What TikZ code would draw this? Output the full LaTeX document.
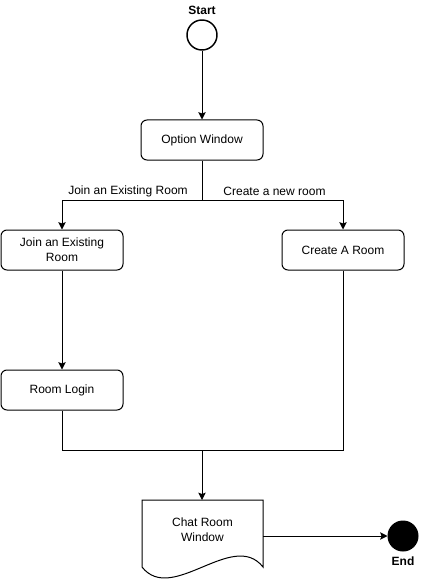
\documentclass[tikz,border=0pt]{standalone}
\usepackage{fontspec}
\setmainfont{Liberation Sans}
\usetikzlibrary{arrows.meta}
\begin{document}
\begin{tikzpicture}[x=0.75pt,y=-0.75pt,
  font=\fontsize{9}{11}\selectfont, line width=0.75pt,
  box/.style={draw, rounded corners=4.5pt, minimum width=91.5pt, minimum height=30pt, align=center, inner sep=1pt},
  state/.style={circle, draw, minimum size=22.5pt, inner sep=0pt, line width=1.1pt},
  endstate/.style={circle, draw, fill=black, minimum size=22.5pt, inner sep=0pt},
  lbl/.style={font=\fontsize{9}{11}\selectfont\bfseries},
  elbl/.style={inner sep=1pt},
  arr/.style={-{Stealth[length=5.5pt,width=5.5pt,inset=1pt]}}]
\useasboundingbox (0,0) rectangle (426,581);

\node[state] (start) at (202,35) {};
\node[lbl] (startlbl) at (202,10) {Start};
\node[box] (opt) at (202,140) {Option Window};
\node[box] (join) at (62,250) {Join an Existing\\Room};
\node[box] (create) at (343,250) {Create A Room};
\node[box] (login) at (62,390) {Room Login};

\coordinate (split) at (202,200);
\coordinate (merge) at (202,450);

% document shape
\coordinate (dnw) at (142,500);
\coordinate (dne) at (263,500);
\coordinate (dse) at (263,567);
\coordinate (dsw) at (142,567);
\draw (dsw) -- (dnw) -- (dne) -- (dse)
  .. controls (233,529) and (172,605) .. (dsw) -- cycle;
\node[align=center, inner sep=0pt] (chat) at (202.5,530) {Chat Room\\Window};
\coordinate (chatE) at (263,536);

\node[endstate] (end) at (403,536) {};
\node[lbl] (endlbl) at (403,561) {End};

\draw[arr] (start) -- (opt);
\draw (opt) -- (split);
\draw[arr] (split) -| (join);
\draw[arr] (split) -| (create);
\node[elbl] (l1) at (128,191) {Join an Existing Room};
\node[elbl] (l2) at (274.5,191) {Create a new room};
\draw[arr] (join) -- (login);
\draw (login) |- (merge);
\draw (create) |- (merge);
\draw[arr] (merge) -- (dnw -| merge);
\draw[arr] (chatE) -- (end);
\end{tikzpicture}
\end{document}
